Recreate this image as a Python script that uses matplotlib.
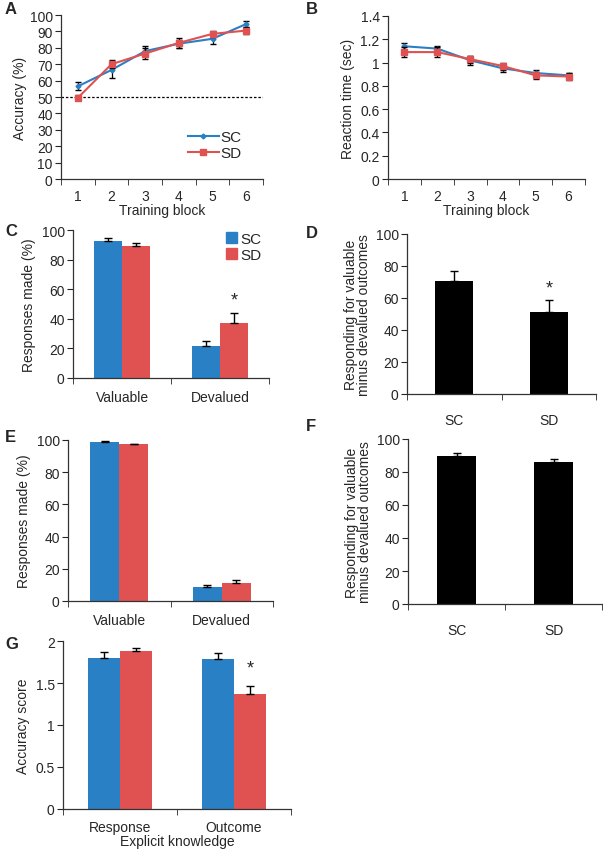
"""Seven-panel figure: training curves (A, B) and outcome-devaluation bar charts (C-G)."""
import numpy as np
import matplotlib
matplotlib.use("Agg")
import matplotlib.pyplot as plt
from matplotlib.ticker import FixedLocator, NullFormatter
from matplotlib.patches import Patch
from matplotlib.lines import Line2D

# --------------------------------------------------------------------------- #
# DATA
# --------------------------------------------------------------------------- #
BLOCKS = [1, 2, 3, 4, 5, 6]
ACC_SC = [56.5, 66.5, 78, 82.5, 85.5, 94.5]
ACC_SC_ERR = [2.5, 5, 3, 2.5, 3, 2]
ACC_SD = [49.5, 70, 76.5, 83, 88.5, 90.5]
ACC_SD_ERR = [1.5, 2.5, 3.5, 3, 2, 2]

RT_SC = [1.14, 1.12, 1.02, 0.95, 0.91, 0.89]
RT_SC_ERR = [0.03, 0.02, 0.04, 0.03, 0.03, 0.02]
RT_SD = [1.09, 1.09, 1.03, 0.97, 0.89, 0.88]
RT_SD_ERR = [0.04, 0.04, 0.03, 0.03, 0.03, 0.03]

OUTCOMES = ["Valuable", "Devalued"]
C_SC, C_SC_ERR = [92.5, 21.5], [2, 3.7]
C_SD, C_SD_ERR = [89.5, 37.5], [2, 6.3]

GROUPS = ["SC", "SD"]
D_VALS, D_ERR = [70.7, 51.0], [6, 7.6]

E_SC, E_SC_ERR = [99.0, 9.0], [0.5, 1.0]
E_SD, E_SD_ERR = [97.3, 11.2], [0.5, 1.8]

F_VALS, F_ERR = [89.9, 86.2], [1.8, 1.4]

KNOWLEDGE = ["Response", "Outcome"]
G_SC, G_SC_ERR = [1.80, 1.79], [0.07, 0.07]
G_SD, G_SD_ERR = [1.88, 1.37], [0.04, 0.10]

# --------------------------------------------------------------------------- #
BLUE, RED = "#2A80C4", "#E05252"
INK = "#262626"
FS = 10

plt.rcParams.update({
    "font.family": ["Liberation Sans", "DejaVu Sans"],
    "font.size": FS,
    "text.color": INK,
    "axes.labelcolor": INK,
    "xtick.color": INK,
    "ytick.color": INK,
    "axes.edgecolor": "#333333",
    "axes.linewidth": 0.9,
    "xtick.direction": "out",
    "ytick.direction": "out",
    "xtick.major.size": 4,
    "ytick.major.size": 4,
    "xtick.minor.size": 4,
    "xtick.labelsize": FS,
    "ytick.labelsize": FS,
})

fig = plt.figure(figsize=(6.03, 8.53), dpi=100)


def px_axes(x0, y0, x1, y1):
    """Axes from pixel box (top-left origin) of the 603x853 canvas."""
    W, H = 603.0, 853.0
    return fig.add_axes([x0 / W, 1 - y1 / H, (x1 - x0) / W, (y1 - y0) / H])


def style(ax, ncat, pad=9):
    ax.spines["top"].set_visible(False)
    ax.spines["right"].set_visible(False)
    # Excel-like: ticks between categories, labels in the middle
    lo = 0.5 if ncat == 6 else -0.5
    ax.set_xlim(lo, lo + ncat)
    ax.xaxis.set_minor_locator(FixedLocator(np.arange(lo, lo + ncat + 0.01, 1)))
    ax.xaxis.set_minor_formatter(NullFormatter())
    ax.tick_params(axis="x", which="major", length=0, pad=pad)
    ax.tick_params(axis="y", pad=2)


def label(ax, text, x, y):
    fig.text(x / 603.0, 1 - y / 853.0, text, fontsize=12, fontweight="bold",
             ha="left", va="center")


def grouped(ax, cats, sc, sc_err, sd, sd_err, pad=9):
    x = np.arange(len(cats))
    w = 0.285
    ax.bar(x - w / 2, sc, w, color=BLUE, zorder=2)
    ax.bar(x + w / 2, sd, w, color=RED, zorder=2)
    ax.errorbar(x - w / 2, sc, yerr=[np.zeros(len(sc)), sc_err], fmt="none",
                ecolor="black", elinewidth=1, capsize=3, capthick=1, zorder=3)
    ax.errorbar(x + w / 2, sd, yerr=[np.zeros(len(sd)), sd_err], fmt="none",
                ecolor="black", elinewidth=1, capsize=3, capthick=1, zorder=3)
    ax.set_xticks(x)
    ax.set_xticklabels(cats)
    style(ax, len(cats), pad)
    return x, w


def single(ax, vals, err):
    x = np.arange(len(GROUPS))
    ax.bar(x, vals, 0.4, color="black", zorder=2)
    ax.errorbar(x, vals, yerr=[np.zeros(len(vals)), err], fmt="none",
                ecolor="black", elinewidth=1, capsize=3, capthick=1, zorder=3)
    ax.set_xticks(x)
    ax.set_xticklabels(GROUPS)
    style(ax, len(GROUPS), pad=14)
    ax.set_ylim(0, 100)
    ax.set_yticks(range(0, 101, 20))
    ax.set_ylabel("Responding for valuable\nminus devalued outcomes",
                  linespacing=0.95, labelpad=3)
    return x


# ---- A: accuracy over training -------------------------------------------- #
ax = px_axes(61, 16, 263, 180)
ax.axhline(50, color="black", ls=(0, (2, 1.5)), lw=0.9, zorder=1)
ax.errorbar(BLOCKS, ACC_SC, yerr=ACC_SC_ERR, color=BLUE, lw=1.5, marker="D",
            ms=2.5, ecolor="black", elinewidth=0.9, capsize=2.5, zorder=3)
ax.errorbar(BLOCKS, ACC_SD, yerr=ACC_SD_ERR, color=RED, lw=1.5, marker="s",
            ms=4.5, ecolor="black", elinewidth=0.9, capsize=2.5, zorder=4)
ax.set_xticks(BLOCKS)
style(ax, 6, pad=7)
ax.set_ylim(0, 100)
ax.set_yticks(range(0, 101, 10))
ax.set_ylabel("Accuracy (%)", labelpad=2)
ax.set_xlabel("Training block", labelpad=0)
handles = [Line2D([], [], color=BLUE, lw=1.5, marker="D", ms=2.5),
           Line2D([], [], color=RED, lw=1.5, marker="s", ms=4.5)]
ax.legend(handles, GROUPS, loc="lower right", bbox_to_anchor=(0.93, 0.07),
          frameon=False, fontsize=11, handlelength=2.0, handletextpad=0.1,
          labelspacing=0.1, borderpad=0)
label(ax, "A", 5, 9)

# ---- B: reaction time ----------------------------------------------------- #
ax = px_axes(388, 17, 585, 180)
ax.errorbar(BLOCKS, RT_SC, yerr=RT_SC_ERR, color=BLUE, lw=1.5, marker="D",
            ms=2.5, ecolor="black", elinewidth=0.9, capsize=2.5, zorder=3)
ax.errorbar(BLOCKS, RT_SD, yerr=RT_SD_ERR, color=RED, lw=1.5, marker="s",
            ms=4.5, ecolor="black", elinewidth=0.9, capsize=2.5, zorder=4)
ax.set_xticks(BLOCKS)
style(ax, 6, pad=7)
ax.set_ylim(0, 1.4)
ax.set_yticks([0, 0.2, 0.4, 0.6, 0.8, 1.0, 1.2, 1.4])
ax.set_yticklabels(["0", "0.2", "0.4", "0.6", "0.8", "1", "1.2", "1.4"])
ax.set_ylabel("Reaction time (sec)", labelpad=4)
ax.set_xlabel("Training block", labelpad=0)
label(ax, "B", 306, 9)

# ---- C: responses made (test 1) ------------------------------------------- #
ax = px_axes(73, 231, 269, 379)
x, w = grouped(ax, OUTCOMES, C_SC, C_SC_ERR, C_SD, C_SD_ERR)
ax.set_ylim(0, 100)
ax.set_yticks(range(0, 101, 20))
ax.set_ylabel("Responses made (%)", labelpad=4)
ax.text(x[1] + w / 2, 47, "*", ha="center", va="bottom", fontsize=13)
ax.legend([Patch(color=BLUE), Patch(color=RED)], GROUPS, loc="upper right",
          bbox_to_anchor=(1.0, 1.04), frameon=False, fontsize=11,
          handlelength=0.7, handleheight=0.7, handletextpad=0.2,
          labelspacing=0.15, borderpad=0)
label(ax, "C", 5, 232)

# ---- D: valuable minus devalued ------------------------------------------- #
ax = px_axes(407, 235, 596, 395)
x = single(ax, D_VALS, D_ERR)
ax.text(x[1], 61, "*", ha="center", va="bottom", fontsize=13)
label(ax, "D", 306, 234)

# ---- E: responses made (test 2) ------------------------------------------- #
ax = px_axes(68, 441, 273, 602)
grouped(ax, OUTCOMES, E_SC, E_SC_ERR, E_SD, E_SD_ERR)
ax.set_ylim(0, 100)
ax.set_yticks(range(0, 101, 20))
ax.set_ylabel("Responses made (%)", labelpad=4)
label(ax, "E", 5, 438)

# ---- F: valuable minus devalued (test 2) ---------------------------------- #
ax = px_axes(408, 440, 602, 605)
single(ax, F_VALS, F_ERR)
label(ax, "F", 306, 427)

# ---- G: explicit knowledge ------------------------------------------------ #
ax = px_axes(63, 642, 291, 810)
x, w = grouped(ax, KNOWLEDGE, G_SC, G_SC_ERR, G_SD, G_SD_ERR, pad=8)
ax.set_ylim(0, 2)
ax.set_yticks([0, 0.5, 1, 1.5, 2])
ax.set_yticklabels(["0", "0.5", "1", "1.5", "2"])
ax.set_ylabel("Accuracy score", labelpad=4)
ax.set_xlabel("Explicit knowledge", labelpad=0)
ax.text(x[1] + w / 2, 1.58, "*", ha="center", va="bottom", fontsize=13)
label(ax, "G", 5, 645)

fig.savefig("out.png", dpi=100)
